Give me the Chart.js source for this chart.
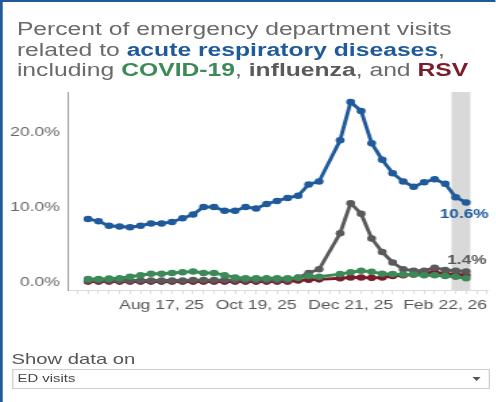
<!DOCTYPE html>
<html lang="en">
<head>
<meta charset="UTF-8">
<title>Acute respiratory ED visits</title>
<script src="https://cdn.jsdelivr.net/npm/chart.js"></script>
<style>
    html, body {
        margin: 0;
        padding: 0;
        background: #fff;
        overflow: hidden;
    }
    /* the reference is stretched horizontally, so draw narrow and stretch */
    .wrap {
        position: relative;
        width: 367.4px;
        height: 402px;
        transform: scaleX(1.35);
        transform-origin: 0 0;
        font-family: "Liberation Sans", Arial, sans-serif;
        border-top: 2px solid #1f5a9a;
        border-left: 2.4px solid #1f5a9a;
        box-sizing: border-box;
    }
    .title {
        position: absolute;
        left: 10.5px;
        top: 17px;
        font-size: 18.3px;
        line-height: 20.5px;
        color: #6a6a6a;
        white-space: nowrap;
    }
    .title b { font-weight: bold; }
    .c-ari { color: #1f5a9a; }
    .c-cov { color: #3b8a57; }
    .c-flu { color: #5a5a5a; }
    .c-rsv { color: #7a1c2a; }
    .chart-box {
        position: absolute;
        left: -2.4px;
        top: 86px;
        width: 367.4px;
        height: 232px;
    }
    .show-lbl {
        position: absolute;
        left: 6.5px;
        top: 348px;
        font-size: 15px;
        color: #555;
    }
    .dropdown {
        position: absolute;
        left: 6.5px;
        top: 367px;
        width: 354.8px;
        height: 19.5px;
        border: 1px solid #cfcfcf;
        box-sizing: border-box;
        font-size: 11px;
        color: #444;
        line-height: 17.5px;
        padding-left: 3.5px;
    }
    .dropdown .arrow {
        position: absolute;
        right: 6px;
        top: 7px;
        width: 0;
        height: 0;
        border-left: 3px solid transparent;
        border-right: 3px solid transparent;
        border-top: 4px solid #555;
    }
</style>
</head>
<body>
<div class="wrap">
    <div class="title">
        Percent of emergency department visits<br>
        related to <b class="c-ari">acute respiratory diseases</b>,<br>
        including <b class="c-cov">COVID-19</b>, <b class="c-flu">influenza</b>, and <b class="c-rsv">RSV</b>
    </div>
    <div class="chart-box"><canvas id="grafico"></canvas></div>
    <div class="show-lbl">Show data on</div>
    <div class="dropdown">ED visits<span class="arrow"></span></div>
</div>

<script>
// weekly data (week starting dates)
var weeks = ['Jun 29, 25', 'Jul 6, 25', 'Jul 13, 25', 'Jul 20, 25', 'Jul 27, 25', 'Aug 3, 25', 'Aug 10, 25',
    'Aug 17, 25', 'Aug 24, 25', 'Aug 31, 25', 'Sep 7, 25', 'Sep 14, 25', 'Sep 21, 25', 'Sep 28, 25',
    'Oct 5, 25', 'Oct 12, 25', 'Oct 19, 25', 'Oct 26, 25', 'Nov 2, 25', 'Nov 9, 25', 'Nov 16, 25',
    'Nov 23, 25', 'Nov 30, 25', 'Dec 7, 25', 'Dec 14, 25', 'Dec 21, 25', 'Dec 28, 25', 'Jan 4, 26',
    'Jan 11, 26', 'Jan 18, 26', 'Jan 25, 26', 'Feb 1, 26', 'Feb 8, 26', 'Feb 15, 26', 'Feb 22, 26',
    'Mar 1, 26', 'Mar 8, 26'];
var tickLabels = ['Aug 17, 25', 'Oct 19, 25', 'Dec 21, 25', 'Feb 22, 26'];
var yTicks = [0, 10, 20];

var acuteResp = [8.4, 8.1, 7.5, 7.4, 7.3, 7.5, 7.8, 7.8, 8.0, 8.5, 9.0, 10.0, 10.0, 9.5, 9.5, 10.0, 9.8, 10.4,
    10.8, 11.2, 11.5, 13.0, 13.4, null, 18.9, 24.0, 22.8, 18.5, 16.3, 14.5, 13.4, 12.7, 13.3, 13.7, 13.1, 11.3, 10.6];
var covid = [0.4, 0.4, 0.45, 0.5, 0.7, 0.9, 1.1, 1.1, 1.2, 1.3, 1.4, 1.2, 1.2, 0.9, 0.6, 0.5, 0.5, 0.5,
    0.5, 0.5, 0.55, 0.8, 0.7, null, 1.05, 1.3, 1.5, 1.35, 1.1, 1.05, 1.0, 1.0, 0.9, 0.9, 0.8, 0.7, 0.5];
var influenza = [0.2, 0.2, 0.2, 0.2, 0.2, 0.2, 0.2, 0.2, 0.2, 0.2, 0.25, 0.25, 0.25, 0.25, 0.25, 0.25, 0.25, 0.25,
    0.25, 0.25, 0.6, 1.2, 1.7, null, 6.5, 10.5, 9.1, 5.8, 4.0, 2.6, 1.7, 1.5, 1.5, 1.9, 1.6, 1.5, 1.4];
var rsv = [0.05, 0.05, 0.05, 0.05, 0.05, 0.05, 0.05, 0.05, 0.05, 0.05, 0.05, 0.05, 0.05, 0.05, 0.05, 0.05, 0.05, 0.05,
    0.05, 0.05, 0.2, 0.3, 0.35, null, 0.5, 0.6, 0.6, 0.55, 0.6, 0.8, 0.9, 1.0, 1.2, 1.3, 1.1, 1.0, 0.9];

// last two weeks are shaded (incomplete data)
var shadeFrom = 34.6;
var shadeTo = 36.4;

function pontos(valores) {
    return valores.map(function (v, i) { return { x: i, y: v }; });
}

function serie(label, valores, cor) {
    return {
        label: label,
        data: pontos(valores),
        borderColor: cor,
        backgroundColor: cor,
        borderWidth: 2.9,
        pointRadius: 3.3,
        pointBorderWidth: 0,
        pointBackgroundColor: cor,
        spanGaps: true,
        tension: 0
    };
}

var shadePlugin = {
    id: 'shade',
    beforeDatasetsDraw: function (chart) {
        var ctx = chart.ctx, x = chart.scales.x, area = chart.chartArea;
        var x1 = x.getPixelForValue(shadeFrom), x2 = x.getPixelForValue(shadeTo);
        ctx.save();
        ctx.fillStyle = '#d9d9d9';
        ctx.fillRect(x1, area.top, x2 - x1, area.bottom - area.top);
        ctx.restore();
    }
};

var lastLabels = {
    id: 'lastLabels',
    afterDatasetsDraw: function (chart) {
        var ctx = chart.ctx;
        ctx.save();
        ctx.font = 'bold 12.8px "Liberation Sans", Arial, sans-serif';
        ctx.textAlign = 'center';
        ctx.textBaseline = 'middle';
        // acute respiratory (dataset 0) - below the last point
        var m0 = chart.getDatasetMeta(0).data;
        var p0 = m0[m0.length - 1];
        ctx.fillStyle = '#1f5a9a';
        ctx.fillText(acuteResp[acuteResp.length - 1].toFixed(1) + '%', p0.x - 1.5, p0.y + 12.5);
        // influenza (dataset 2) - above the last point
        var m2 = chart.getDatasetMeta(2).data;
        var p2 = m2[m2.length - 1];
        ctx.fillStyle = '#5a5a5a';
        ctx.fillText(influenza[influenza.length - 1].toFixed(1) + '%', p2.x + 0.5, p2.y - 10.5);
        ctx.restore();
    }
};

var ctx = document.getElementById('grafico').getContext('2d');
var myChart = new Chart(ctx, {
    type: 'line',
    data: {
        datasets: [
            serie('Acute respiratory diseases', acuteResp, '#1f5a9a'),
            serie('COVID-19', covid, '#3b8a57'),
            serie('Influenza', influenza, '#5a5a5a'),
            serie('RSV', rsv, '#7a1c2a')
        ]
    },
    options: {
        responsive: true,
        maintainAspectRatio: false,
        animation: false,
        layout: { padding: { top: 4, right: 5.9, left: 0, bottom: 0 } },
        plugins: { legend: { display: false }, tooltip: { enabled: false } },
        scales: {
            x: {
                type: 'linear',
                min: -1.9,
                max: 38.08,
                afterBuildTicks: function (axis) {
                    var t = [];
                    for (var i = -1; i <= 38; i++) t.push({ value: i });
                    axis.ticks = t;
                },
                afterFit: function (axis) {
                    axis.height = 30;
                    axis.paddingLeft = 0;
                    axis.paddingRight = 0;
                },
                grid: { drawOnChartArea: false, drawTicks: true, tickLength: 4, color: '#dcdcdc' },
                border: { color: '#dcdcdc', width: 1 },
                ticks: {
                    autoSkip: false,
                    maxRotation: 0,
                    padding: 4,
                    color: '#555',
                    font: { family: '"Liberation Sans", Arial, sans-serif', size: 13 },
                    callback: function (v) {
                        var w = weeks[v];
                        return (w && tickLabels.indexOf(w) >= 0) ? w : '';
                    }
                }
            },
            y: {
                min: -1.07,
                max: 25.33,
                afterBuildTicks: function (axis) {
                    axis.ticks = yTicks.map(function (v) { return { value: v }; });
                },
                afterFit: function (axis) {
                    axis.width = 50.4;
                    axis.paddingTop = 0;
                    axis.paddingBottom = 0;
                },
                grid: { display: false, drawTicks: false },
                border: { color: '#9a9a9a', width: 1 },
                ticks: {
                    padding: 6,
                    color: '#666',
                    font: { family: '"Liberation Sans", Arial, sans-serif', size: 13 },
                    callback: function (v) { return v.toFixed(1) + '%'; }
                }
            }
        }
    },
    plugins: [shadePlugin, lastLabels]
});
</script>
</body>
</html>
